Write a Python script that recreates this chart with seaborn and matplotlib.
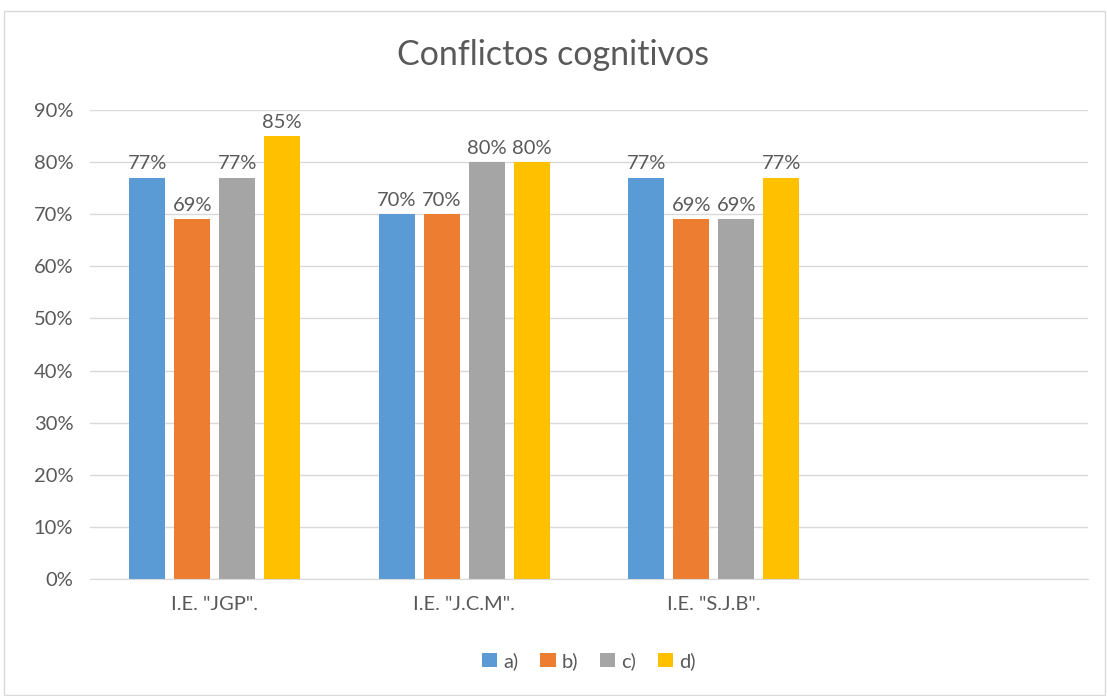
import numpy as np
import pandas as pd
import matplotlib
matplotlib.use("Agg")
import matplotlib.pyplot as plt
import seaborn as sns
from matplotlib.patches import Rectangle

schools = ['I.E. "JGP".', 'I.E. "J.C.M".', 'I.E. "S.J.B".']
options = ["a)", "b)", "c)", "d)"]
values_a = [0.77, 0.70, 0.77]
values_b = [0.69, 0.70, 0.69]
values_c = [0.77, 0.80, 0.69]
values_d = [0.85, 0.80, 0.77]
colors = ["#5B9BD5", "#ED7D31", "#A5A5A5", "#FFC000"]

rows = []
for opt, vals in zip(options, [values_a, values_b, values_c, values_d]):
    for s, v in zip(schools, vals):
        rows.append({"school": s, "option": opt, "value": v})
df = pd.DataFrame(rows)

sns.set_style("white")
plt.rcParams["font.family"] = ["Lato", "DejaVu Sans"]
txt = "#595959"

fig = plt.figure(figsize=(11.07, 6.96), dpi=100)
ax = fig.add_axes([90 / 1107, 1 - 579 / 696, 998 / 1107, 469 / 696])

order = schools + [" "]
sns.barplot(data=df, x="school", y="value", hue="option", order=order,
            hue_order=options, palette=colors, width=0.72, gap=0.2,
            saturation=1, linewidth=0, ax=ax, legend=True)

for cont in ax.containers:
    ax.bar_label(cont, labels=[f"{v:.0%}" for v in cont.datavalues],
                 padding=4, fontsize=14.5, color=txt)

ax.set_ylim(0, 0.9)
ax.set_xlim(-0.5, 3.5)
ax.set_yticks(np.arange(0, 0.91, 0.1))
ax.set_yticklabels([f"{int(round(t * 100))}%" for t in np.arange(0, 0.91, 0.1)])
ax.set_xticks(range(4))
ax.set_xticklabels(schools + [""])
ax.tick_params(axis="both", length=0, labelsize=14.5, colors=txt)
ax.tick_params(axis="x", pad=12)
ax.tick_params(axis="y", pad=12)
ax.yaxis.grid(True, color="#D9D9D9", linewidth=1)
ax.set_axisbelow(True)
for side in ["top", "right", "left"]:
    ax.spines[side].set_visible(False)
ax.spines["bottom"].set_color("#D9D9D9")
ax.set_xlabel("")
ax.set_ylabel("")

ax.legend(loc="center", bbox_to_anchor=(0.5, -0.175), ncol=4, frameon=False,
          fontsize=14.5, labelcolor=txt, handlelength=0.75, handleheight=0.75,
          handletextpad=0.3, columnspacing=1.1)

fig.text(0.5, 1 - 55 / 696, "Conflictos cognitivos", ha="center", va="center",
         fontsize=24.5, color=txt)

fig.patches.append(Rectangle((4 / 1107, 0.002), 1 - 6 / 1107, 1 - 12 / 696,
                             transform=fig.transFigure, fill=False,
                             edgecolor="#D9D9D9", linewidth=1))

fig.savefig("out.png", dpi=100, facecolor="white")
